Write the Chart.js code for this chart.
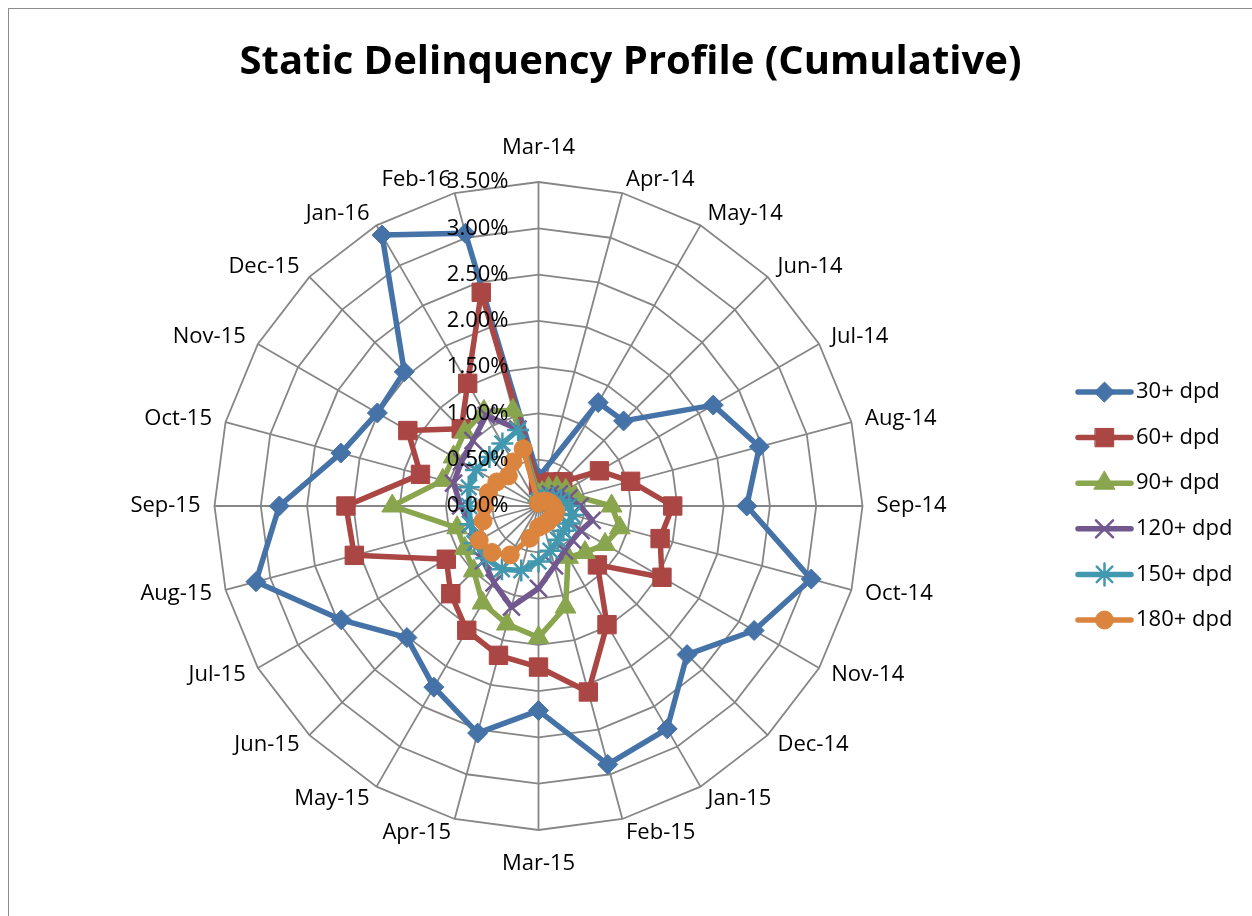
<!DOCTYPE html>
<html>
<head>
<meta charset="utf-8">
<script src="https://cdn.jsdelivr.net/npm/chart.js@4.4.1/dist/chart.umd.min.js"></script>
<style>
html, body { margin: 0; padding: 0; background: #fff; }
#frame { position: absolute; left: 8px; top: 8px; width: 1250px; height: 915px; border-left: 1px solid #8c8c8c; border-top: 1px solid #8c8c8c; }
#wrap { position: absolute; left: 9px; top: 9px; width: 1243px; height: 907px; }
</style>
</head>
<body>
<div id="frame"></div>
<div id="wrap"><canvas id="myChart"></canvas></div>
<script>
const categories = ['Mar-14', 'Apr-14', 'May-14', 'Jun-14', 'Jul-14', 'Aug-14', 'Sep-14', 'Oct-14',
    'Nov-14', 'Dec-14', 'Jan-15', 'Feb-15', 'Mar-15', 'Apr-15', 'May-15', 'Jun-15', 'Jul-15',
    'Aug-15', 'Sep-15', 'Oct-15', 'Nov-15', 'Dec-15', 'Jan-16', 'Feb-16'];

// values in percent
const dpd30  = [0.31, null, 1.29, 1.30, 2.18, 2.47, 2.25, 3.05, 2.69, 2.27, 2.78, 2.89, 2.21, 2.54, 2.26, 2.01, 2.46, 3.16, 2.80, 2.21, 2.01, 2.05, 3.38, 3.05];
const dpd60  = [0.22, 0.25, 0.30, 0.37, 0.76, 1.03, 1.45, 1.36, 1.54, 0.90, 1.48, 2.08, 1.74, 1.67, 1.55, 1.34, 1.15, 2.06, 2.08, 1.32, 1.63, 1.18, 1.53, 2.39];
const dpd90  = [0.12, 0.15, 0.22, 0.28, 0.34, 0.41, 0.79, 0.91, 0.83, 0.71, 0.64, 1.13, 1.42, 1.32, 1.21, 0.99, 0.92, 0.91, 1.58, 1.07, 1.06, 1.13, 1.18, 1.07];
const dpd120 = [0.06, 0.08, 0.12, 0.18, 0.26, 0.34, 0.45, 0.60, 0.53, 0.52, 0.56, 0.67, 0.89, 1.13, 0.96, 0.84, 0.77, 0.76, 0.84, 0.95, 0.96, 1.00, 1.13, 0.86];
const dpd150 = [0.05, 0.06, 0.08, 0.12, 0.18, 0.25, 0.33, 0.38, 0.38, 0.38, 0.42, 0.50, 0.60, 0.72, 0.79, 0.80, 0.80, 0.76, 0.75, 0.78, 0.78, 0.75, 0.78, 0.85];
const dpd180 = [0.03, 0.04, 0.05, 0.07, 0.10, 0.13, 0.16, 0.19, 0.20, 0.19, 0.20, 0.21, 0.23, 0.36, 0.61, 0.71, 0.74, 0.62, 0.58, 0.56, 0.52, 0.46, 0.55, 0.64];

const seriesNames = ['30+ dpd', '60+ dpd', '90+ dpd', '120+ dpd', '150+ dpd', '180+ dpd'];
const seriesData = [dpd30, dpd60, dpd90, dpd120, dpd150, dpd180];
const seriesColors = ['#4572A7', '#AA4643', '#89A54E', '#71588F', '#4198AF', '#DB843D'];
const markerStyles = ['rectRot', 'rect', 'triangle', 'crossRot', 'star', 'circle'];
const markerSizes = [10, 13, 12, 12, 11, 9];

const titleText = 'Static Delinquency Profile (Cumulative)';
const labelFont = '22px "Open Sans"';

// where the radar sits inside the canvas
const centerX = 529.5;
const centerY = 497;
const outerRadius = 324;

const datasets = seriesData.map((values, i) => ({
    label: seriesNames[i],
    data: values,
    fill: false,
    borderColor: seriesColors[i],
    backgroundColor: seriesColors[i],
    borderWidth: 5.5,
    borderJoinStyle: 'round',
    borderCapStyle: 'round',
    pointStyle: markerStyles[i],
    pointRadius: markerSizes[i],
    pointHoverRadius: markerSizes[i],
    pointBackgroundColor: seriesColors[i],
    pointBorderColor: seriesColors[i],
    pointBorderWidth: (markerStyles[i] === 'crossRot' || markerStyles[i] === 'star') ? 2.5 : 1,
    spanGaps: true,
    order: seriesData.length - i
}));

const labelsPlugin = {
    id: 'labelsPlugin',
    afterDatasetsDraw(chart) {
        const scale = chart.scales.r;
        const ctx = chart.ctx;
        ctx.save();
        ctx.font = labelFont;
        ctx.fillStyle = '#000';

        // category names round the outside
        categories.forEach((name, i) => {
            const angle = i * 2 * Math.PI / categories.length;
            const s = Math.sin(angle), c = Math.cos(angle);
            const p = scale.getPointPosition(i, scale.drawingArea);
            ctx.textBaseline = 'middle';
            if (Math.abs(s) < 0.01) {
                ctx.textAlign = 'center';
                ctx.fillText(name, p.x, p.y - 34 * c);
            } else {
                ctx.textAlign = s > 0 ? 'left' : 'right';
                ctx.fillText(name, p.x + 14 * s, p.y - 14 * c);
            }
        });

        // value ticks left of the top spoke
        ctx.textAlign = 'right';
        ctx.textBaseline = 'middle';
        scale.ticks.forEach(t => {
            const y = scale.yCenter - scale.getDistanceFromCenterForValue(t.value);
            ctx.fillText(t.value.toFixed(2) + '%', scale.xCenter - 30, y);
        });

        // legend
        const lx = 1069, ly = 383, step = 45.6;
        chart.data.datasets.forEach((ds, i) => {
            const y = ly + i * step;
            ctx.strokeStyle = ds.borderColor;
            ctx.lineWidth = 5.5;
            ctx.lineCap = 'round';
            ctx.beginPath();
            ctx.moveTo(lx, y);
            ctx.lineTo(lx + 53, y);
            ctx.stroke();
            ctx.fillStyle = ds.pointBackgroundColor;
            ctx.strokeStyle = ds.pointBorderColor;
            ctx.lineWidth = ds.pointBorderWidth;
            if (Chart.helpers && Chart.helpers.drawPoint) {
                Chart.helpers.drawPoint(ctx, {pointStyle: ds.pointStyle, radius: ds.pointRadius, borderWidth: ds.pointBorderWidth, rotation: 0}, lx + 26.5, y);
            }
            ctx.fillStyle = '#000';
            ctx.textAlign = 'left';
            ctx.fillText(ds.label, lx + 58, y);
        });
        ctx.restore();
    }
};

const ctx = document.getElementById('myChart').getContext('2d');
const chart = new Chart(ctx, {
    type: 'radar',
    data: {
        labels: categories,
        datasets: datasets
    },
    options: {
        responsive: true,
        maintainAspectRatio: false,
        animation: false,
        events: [],
        plugins: {
            legend: { display: false },
            tooltip: { enabled: false },
            title: {
                display: true,
                text: titleText,
                color: '#000',
                font: { family: '"Open Sans"', size: 40, weight: 'bold' },
                padding: { top: 30, bottom: 10 }
            }
        },
        scales: {
            r: {
                min: 0,
                max: 3.5,
                ticks: { stepSize: 0.5, display: false },
                pointLabels: { display: false },
                grid: { color: '#868686', lineWidth: 1.8 },
                angleLines: { color: '#868686', lineWidth: 1.8 },
                afterFit: (scale) => {
                    scale.xCenter = centerX;
                    scale.yCenter = centerY;
                    scale.drawingArea = outerRadius;
                }
            }
        }
    },
    plugins: [labelsPlugin]
});
</script>
</body>
</html>
